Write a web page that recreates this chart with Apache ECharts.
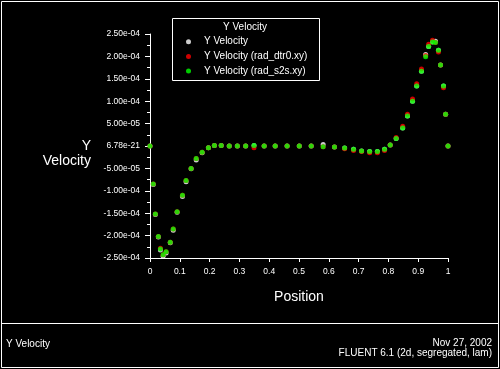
<!DOCTYPE html>
<html>
<head>
<meta charset="utf-8">
<script src="https://cdn.jsdelivr.net/npm/echarts@6/dist/echarts.min.js"></script>
<style>
html,body{margin:0;padding:0;background:#000;}
#chart{width:500px;height:369px;}
</style>
</head>
<body>
<div id="chart"></div>
<script>
// Position along the line (x)
const positions = [
  0.000, 0.011, 0.018, 0.028, 0.035, 0.044, 0.054, 0.068, 0.078, 0.091,
  0.109, 0.121, 0.138, 0.155, 0.175, 0.196, 0.216, 0.239, 0.266, 0.293,
  0.321, 0.349, 0.383, 0.420, 0.460, 0.501, 0.541, 0.581, 0.619, 0.653,
  0.683, 0.710, 0.737, 0.763, 0.787, 0.806, 0.826, 0.848, 0.864, 0.881,
  0.895, 0.911, 0.925, 0.935, 0.948, 0.958, 0.968, 0.975, 0.985, 0.992,
  1.000
];
// Y Velocity (white)
const yVelocity = [
  0.00e-4, -0.86e-4, -1.53e-4, -2.03e-4, -2.32e-4, -2.46e-4, -2.39e-4, -2.16e-4, -1.88e-4, -1.48e-4,
  -1.13e-4, -0.80e-4, -0.51e-4, -0.31e-4, -0.15e-4, -0.04e-4, 0.01e-4, 0.01e-4, 0.00e-4, 0.00e-4,
  0.00e-4, 0.01e-4, 0.00e-4, 0.00e-4, 0.00e-4, 0.00e-4, 0.00e-4, 0.035e-4, -0.02e-4, -0.045e-4,
  -0.074e-4, -0.11e-4, -0.12e-4, -0.12e-4, -0.074e-4, 0.02e-4, 0.17e-4, 0.40e-4, 0.67e-4, 1.00e-4,
  1.34e-4, 1.67e-4, 2.04e-4, 2.22e-4, 2.32e-4, 2.34e-4, 2.14e-4, 1.81e-4, 1.34e-4, 0.71e-4,
  0.00e-4
];
// Y Velocity (rad_dtr0.xy) (red)
const yVelocityDtr0 = [
  0.00e-4, -0.85e-4, -1.52e-4, -2.02e-4, -2.28e-4, -2.43e-4, -2.36e-4, -2.15e-4, -1.85e-4, -1.47e-4,
  -1.10e-4, -0.77e-4, -0.50e-4, -0.28e-4, -0.14e-4, -0.04e-4, 0.01e-4, 0.01e-4, 0.00e-4, 0.00e-4,
  0.00e-4, -0.04e-4, 0.00e-4, 0.00e-4, 0.00e-4, 0.00e-4, 0.00e-4, -0.015e-4, -0.02e-4, -0.06e-4,
  -0.10e-4, -0.12e-4, -0.15e-4, -0.15e-4, -0.10e-4, 0.02e-4, 0.19e-4, 0.44e-4, 0.71e-4, 1.05e-4,
  1.39e-4, 1.72e-4, 2.02e-4, 2.27e-4, 2.36e-4, 2.31e-4, 2.10e-4, 1.81e-4, 1.30e-4, 0.71e-4,
  0.00e-4
];
// Y Velocity (rad_s2s.xy) (green)
const yVelocityS2s = [
  0.00e-4, -0.85e-4, -1.52e-4, -2.02e-4, -2.30e-4, -2.43e-4, -2.36e-4, -2.15e-4, -1.85e-4, -1.47e-4,
  -1.10e-4, -0.77e-4, -0.50e-4, -0.28e-4, -0.14e-4, -0.04e-4, 0.01e-4, 0.01e-4, 0.00e-4, 0.00e-4,
  0.00e-4, 0.01e-4, 0.00e-4, 0.00e-4, 0.00e-4, 0.00e-4, 0.00e-4, -0.015e-4, -0.02e-4, -0.045e-4,
  -0.074e-4, -0.11e-4, -0.12e-4, -0.12e-4, -0.074e-4, 0.02e-4, 0.17e-4, 0.40e-4, 0.67e-4, 1.00e-4,
  1.34e-4, 1.67e-4, 1.99e-4, 2.22e-4, 2.32e-4, 2.31e-4, 2.14e-4, 1.81e-4, 1.34e-4, 0.71e-4,
  0.00e-4
];
const seriesNames = ['Y Velocity', 'Y Velocity (rad_dtr0.xy)', 'Y Velocity (rad_s2s.xy)'];
const xTickLabels = ['0', '0.1', '0.2', '0.3', '0.4', '0.5', '0.6', '0.7', '0.8', '0.9', '1'];
const yTickLabels = ['2.50e-04', '2.00e-04', '1.50e-04', '1.00e-04', '5.00e-05', '6.78e-21',
  '-5.00e-05', '-1.00e-04', '-1.50e-04', '-2.00e-04', '-2.50e-04'];

const FONT = 'Liberation Sans';
const toPairs = ys => positions.map((x, i) => [x, ys[i]]);

const chart = echarts.init(document.getElementById('chart'), null, {renderer: 'canvas'});
chart.setOption({
  backgroundColor: '#000000',
  animation: false,
  textStyle: {fontFamily: FONT, color: '#ffffff'},
  grid: {left: 150, top: 34, width: 298, height: 224, containLabel: false},
  legend: {
    orient: 'vertical',
    left: 186,
    top: 35.7,
    padding: 0,
    itemWidth: 5,
    itemHeight: 5,
    itemGap: 2.7,
    icon: 'circle',
    selectedMode: false,
    data: seriesNames,
    textStyle: {color: '#ffffff', fontSize: 10, fontFamily: FONT, lineHeight: 12, padding: [0, 0, 0, 8]}
  },
  xAxis: {
    type: 'value',
    min: 0,
    max: 1,
    interval: 0.1,
    name: 'Position',
    nameLocation: 'middle',
    nameGap: 32,
    nameTextStyle: {color: '#ffffff', fontSize: 14, fontFamily: FONT},
    axisLine: {onZero: false, lineStyle: {color: '#ffffff', width: 1}},
    axisTick: {show: true, inside: false, length: 4, lineStyle: {color: '#ffffff'}},
    axisLabel: {
      color: '#ffffff', fontSize: 8.5, fontFamily: FONT, margin: 9,
      formatter: v => xTickLabels[Math.round(v * 10)]
    },
    splitLine: {show: false}
  },
  yAxis: {
    type: 'value',
    min: -2.5e-4,
    max: 2.5e-4,
    interval: 5e-5,
    axisLine: {onZero: false, lineStyle: {color: '#ffffff', width: 1}},
    axisTick: {show: true, inside: false, length: 5, lineStyle: {color: '#ffffff'}},
    minorTick: {show: true, splitNumber: 2, length: 3, lineStyle: {color: '#ffffff'}},
    axisLabel: {
      color: '#ffffff', fontSize: 8.5, fontFamily: FONT, margin: 10,
      formatter: v => yTickLabels[Math.round((2.5e-4 - v) / 5e-5)]
    },
    splitLine: {show: false}
  },
  series: [
    {name: seriesNames[0], type: 'scatter', symbol: 'circle', symbolSize: 5,
     itemStyle: {color: '#ffffff'}, data: toPairs(yVelocity), z: 2},
    {name: seriesNames[1], type: 'scatter', symbol: 'circle', symbolSize: 5,
     itemStyle: {color: '#ff0000'}, data: toPairs(yVelocityDtr0), z: 3},
    {name: seriesNames[2], type: 'scatter', symbol: 'circle', symbolSize: 5,
     itemStyle: {color: '#00ff00'}, data: toPairs(yVelocityS2s), z: 4}
  ],
  graphic: [
    {type: 'rect', silent: true, shape: {x: 1.5, y: 1.5, width: 497, height: 366},
     style: {fill: 'none', stroke: '#ffffff', lineWidth: 1}},
    {type: 'line', silent: true, shape: {x1: 1.5, y1: 323.5, x2: 498.5, y2: 323.5},
     style: {stroke: '#ffffff', lineWidth: 1}},
    {type: 'rect', silent: true, shape: {x: 172.5, y: 18.5, width: 147, height: 62},
     style: {fill: 'none', stroke: '#ffffff', lineWidth: 1}},
    {type: 'text', silent: true, x: 245, y: 27,
     style: {text: 'Y Velocity', fill: '#ffffff', font: '10px "Liberation Sans"', align: 'center', verticalAlign: 'middle'}},
    {type: 'text', silent: true, x: 91, y: 146,
     style: {text: 'Y', fill: '#ffffff', font: '14px "Liberation Sans"', align: 'right', verticalAlign: 'middle'}},
    {type: 'text', silent: true, x: 91, y: 161,
     style: {text: 'Velocity', fill: '#ffffff', font: '14px "Liberation Sans"', align: 'right', verticalAlign: 'middle'}},
    {type: 'text', silent: true, x: 6, y: 344,
     style: {text: 'Y Velocity', fill: '#ffffff', font: '10px "Liberation Sans"', align: 'left', verticalAlign: 'middle'}},
    {type: 'text', silent: true, x: 492, y: 343.5,
     style: {text: 'Nov 27, 2002', fill: '#ffffff', font: '10px "Liberation Sans"', align: 'right', verticalAlign: 'middle'}},
    {type: 'text', silent: true, x: 492, y: 353.5,
     style: {text: 'FLUENT 6.1 (2d, segregated, lam)', fill: '#ffffff', font: '10px "Liberation Sans"', align: 'right', verticalAlign: 'middle'}}
  ]
});
</script>
</body>
</html>
